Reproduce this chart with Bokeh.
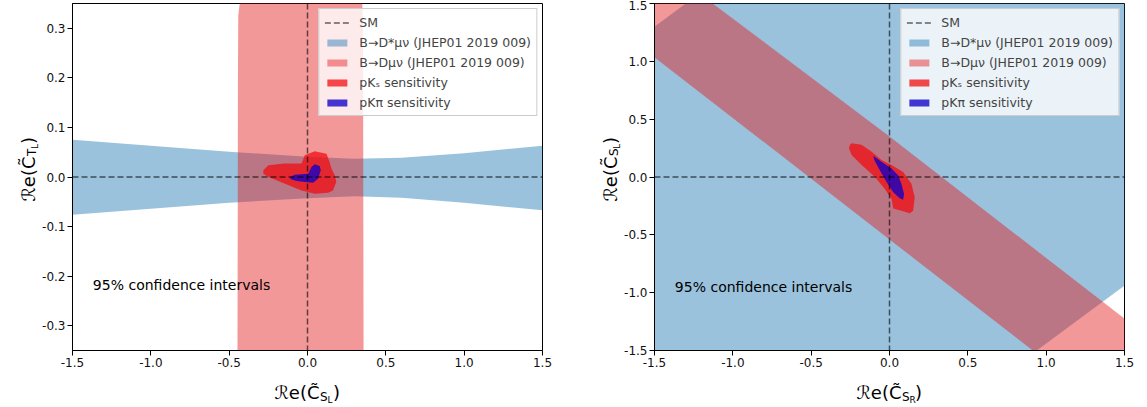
import math
from bokeh.plotting import figure
from bokeh.models import (Range1d, FixedTicker, PrintfTickFormatter, Label, Legend,
                          LegendItem, Span)
from bokeh.layouts import row, column
from bokeh.embed import file_html
from bokeh.resources import INLINE

# ---------------- data: left panel (C_SL vs C_TL) ----------------
L_xticks = [-1.5, -1.0, -0.5, 0.0, 0.5, 1.0, 1.5]
L_yticks = [-0.3, -0.2, -0.1, 0.0, 0.1, 0.2, 0.3]
# B -> D* mu nu band: x, upper, lower
dstarL_x = [-1.5, -1.0, -0.5, 0.0, 0.3, 0.6, 1.0, 1.5]
dstarL_hi = [0.075, 0.063, 0.051, 0.041, 0.037, 0.039, 0.048, 0.063]
dstarL_lo = [-0.076, -0.064, -0.052, -0.043, -0.039, -0.042, -0.052, -0.067]
# B -> D mu nu band: y, left edge, right edge
dL_y = [-0.36, -0.2, 0.0, 0.2, 0.325, 0.345, 0.36]
dL_left = [-0.447, -0.446, -0.445, -0.444, -0.442, -0.435, -0.425]
dL_right = [0.358, 0.357, 0.356, 0.355, 0.353, 0.350, 0.348]
# pK_S sensitivity contour
pksL_x = [-0.282, -0.25, -0.15, -0.038, -0.017, 0.046, 0.121, 0.142, 0.153, 0.174, 0.184,
          0.163, 0.132, 0.046, -0.038, -0.144, -0.25, -0.282]
pksL_y = [0.0135, 0.0236, 0.027, 0.027, 0.044, 0.052, 0.047, 0.030, 0.017, 0.0034, -0.010,
          -0.027, -0.032, -0.034, -0.027, -0.0135, 0.0, 0.0067]
# pK pi sensitivity contour
pkpiL_x = [-0.1125, -0.081, 0.0045, 0.025, 0.046, 0.078, 0.085, 0.068, 0.036, -0.017, -0.07, -0.106]
pkpiL_y = [0.0, 0.0046, 0.0067, 0.020, 0.0257, 0.022, 0.0135, -0.0034, -0.0115, -0.010, -0.008, -0.0046]

# ---------------- data: right panel (C_SR vs C_SL) ----------------
R_ticks = [-1.5, -1.0, -0.5, 0.0, 0.5, 1.0, 1.5]
dstarR_x = [-1.6, 1.6]
dstarR_hi = [1.20, 4.40]
dstarR_lo = [-4.04, -0.84]
dR_x = [-1.6, 0.0, 1.6]
dR_hi = [1.98, 0.35, -1.33]
dR_lo = [1.14, -0.54, -2.22]
pksR_x = [-0.252, -0.242, -0.178, -0.114, -0.051, 0.013, 0.087, 0.14, 0.161, 0.151, 0.129,
          0.076, 0.024, 0.013, -0.03, -0.093, -0.178, -0.242, -0.259]
pksR_y = [0.278, 0.292, 0.278, 0.219, 0.146, 0.103, 0.044, -0.059, -0.175, -0.292, -0.313,
          -0.292, -0.272, -0.19, -0.103, 0.0, 0.103, 0.19, 0.248]
pkpiR_x = [-0.104, -0.051, 0.013, 0.055, 0.076, 0.093, 0.087, 0.065, 0.024, -0.019, -0.062, -0.097]
pkpiR_y = [0.184, 0.132, 0.073, 0.015, -0.059, -0.146, -0.196, -0.184, -0.132, -0.044, 0.059, 0.146]

sm_point = 0.0

labels = ["SM", "B→D*μν (JHEP01 2019 009)", "B→Dμν (JHEP01 2019 009)",
          "pKₛ sensitivity", "pKπ sensitivity"]
note = "95% confidence intervals"
axis_main = "ℛe(C̃"
xlab_subs = [("S", "L"), ("S", "R")]
ylab_subs = [("T", "L"), ("S", "L")]

FONT = "DejaVu Sans"
BLUE, BLUE_A = "#1f77b4", 0.45
PINK, PINK_A = "#e41a1c", 0.45
RED, RED_A = "#f20d12", 0.75
PUR, PUR_A = "#1100c8", 0.78
DASH = dict(line_color="black", line_alpha=0.6, line_width=1.5, line_dash="6 3")

MAIN_H = 372      # height of the two plot figures
STRIP_W = 39      # width of the strips holding the y-axis titles
XSTRIP_H = 407 - MAIN_H


def make_fig(width, border_right, xr, yr, xticks, yticks):
    p = figure(width=width, height=MAIN_H, x_range=Range1d(*xr), y_range=Range1d(*yr),
               output_backend="svg", toolbar_location=None,
               min_border_left=70 - STRIP_W, min_border_right=border_right,
               min_border_top=3, min_border_bottom=22)
    p.grid.visible = False
    p.outline_line_color = "black"
    p.outline_line_width = 1
    p.outline_line_alpha = 1
    for ax, ticks in ((p.xaxis[0], xticks), (p.yaxis[0], yticks)):
        ax.ticker = FixedTicker(ticks=ticks)
        ax.formatter = PrintfTickFormatter(format="%.1f")
        ax.minor_tick_line_color = None
        ax.major_tick_in = 0
        ax.major_tick_out = 5
        ax.major_label_text_font = FONT
        ax.major_label_text_font_size = "12px"
        ax.major_label_text_color = "#111111"
        ax.axis_line_color = "black"
        ax.major_tick_line_color = "black"
        ax.major_label_standoff = 2
    return p


def strip(width, height):
    s = figure(width=width, height=height, x_range=Range1d(0, width),
               y_range=Range1d(height, 0),
               output_backend="svg", toolbar_location=None, min_border=0,
               x_axis_location=None, y_axis_location=None)
    s.grid.visible = False
    s.outline_line_color = None
    return s


def lab(s, x, y, t, al, fs, angle=0.0):
    s.add_layout(Label(x=x, y=y, text=t, angle=angle, text_align=al,
                       text_baseline="alphabetic", text_font=FONT, text_font_size=fs,
                       text_color="black"))


def xtitle(s, cx, sub1, sub2):
    c = cx + 13
    base = 392 - MAIN_H
    lab(s, c, base, axis_main, "right", "18px")
    lab(s, c + 0.5, base + 4, sub1, "left", "12px")
    lab(s, c + 8, base + 7, sub2, "left", "9px")
    lab(s, c + 13.5, base, ")", "left", "18px")


def ytitle(s, sub1, sub2):
    c = 164
    a = math.pi / 2
    b = 27.5
    lab(s, b, c, axis_main, "right", "18px", a)
    lab(s, b + 4, c - 0.5, sub1, "left", "12px", a)
    lab(s, b + 7, c - 8, sub2, "left", "9px", a)
    lab(s, b, c - 13.5, ")", "left", "18px", a)


def decorate(p, note_x, note_y):
    p.add_layout(Span(location=sm_point, dimension="height", **DASH))
    p.add_layout(Span(location=sm_point, dimension="width", **DASH))
    sm_r = p.line(x=[sm_point, sm_point], y=[sm_point, sm_point], **DASH)
    p.add_layout(Label(x=note_x, y=note_y, text=note, text_font=FONT, text_font_size="14px",
                       text_baseline="middle", text_color="black"))
    return sm_r


def add_legend(p, rs):
    items = [LegendItem(label=l, renderers=[r]) for l, r in zip(labels, rs)]
    lg = Legend(items=items, location="top_right", margin=5, padding=5, spacing=4,
                glyph_width=25, glyph_height=9, label_height=16, label_standoff=10,
                label_text_font=FONT, label_text_font_size="12.5px",
                border_line_color="#cccccc", border_line_alpha=1,
                background_fill_color="white", background_fill_alpha=0.8)
    p.add_layout(lg)


# ---------------- left figure ----------------
pl = make_fig(582 - STRIP_W, 40, (-1.5, 1.5), (-0.35, 0.35), L_xticks, L_yticks)
r1 = pl.varea(x=dstarL_x, y1=dstarL_lo, y2=dstarL_hi, fill_color=BLUE, fill_alpha=BLUE_A)
r2 = pl.harea(y=dL_y, x1=dL_left, x2=dL_right, fill_color=PINK, fill_alpha=PINK_A)
r3 = pl.patch(x=pksL_x, y=pksL_y, fill_color=RED, fill_alpha=RED_A, line_color=None)
r4 = pl.patch(x=pkpiL_x, y=pkpiL_y, fill_color=PUR, fill_alpha=PUR_A, line_color=None)
sm1 = decorate(pl, -1.37, -0.218)
add_legend(pl, [sm1, r1, r2, r3, r4])

# ---------------- right figure ----------------
pr = make_fig(1147 - 582 - STRIP_W, 23, (-1.5, 1.5), (-1.5, 1.5), R_ticks, R_ticks)
q1 = pr.varea(x=dstarR_x, y1=dstarR_lo, y2=dstarR_hi, fill_color=BLUE, fill_alpha=BLUE_A)
q2 = pr.varea(x=dR_x, y1=dR_lo, y2=dR_hi, fill_color=PINK, fill_alpha=PINK_A)
q3 = pr.patch(x=pksR_x, y=pksR_y, fill_color=RED, fill_alpha=RED_A, line_color=None)
q4 = pr.patch(x=pkpiR_x, y=pkpiR_y, fill_color=PUR, fill_alpha=PUR_A, line_color=None)
sm2 = decorate(pr, -1.37, -0.95)
add_legend(pr, [sm2, q1, q2, q3, q4])

# ---------------- axis titles (math-style, built from text pieces) ----------------
yl1 = strip(STRIP_W, MAIN_H)
ytitle(yl1, *ylab_subs[0])
yl2 = strip(STRIP_W, MAIN_H)
ytitle(yl2, *ylab_subs[1])
xs = strip(1147, XSTRIP_H)
xtitle(xs, 306, *xlab_subs[0])
xtitle(xs, 888, *xlab_subs[1])

layout = column(row(yl1, pl, yl2, pr), xs)
open("out.html", "w").write(file_html(layout, INLINE))
